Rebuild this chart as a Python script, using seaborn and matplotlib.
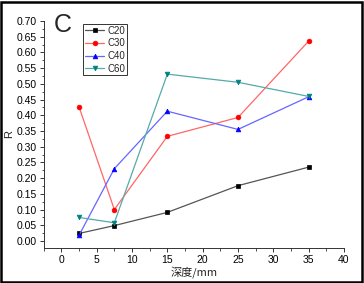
import matplotlib
matplotlib.use("Agg")
import matplotlib.pyplot as plt
import seaborn as sns
import pandas as pd
from matplotlib.patches import Rectangle

depth = [2.5, 7.5, 15, 25, 35]
c20 = [0.024, 0.049, 0.091, 0.176, 0.235]
c30 = [0.427, 0.100, 0.333, 0.393, 0.636]
c40 = [0.018, 0.230, 0.413, 0.355, 0.459]
c60 = [0.075, 0.058, 0.531, 0.505, 0.460]
series = ["C20", "C30", "C40", "C60"]
colors = {"C20": "#000000", "C30": "#FF0000", "C40": "#0000FF", "C60": "#008080"}
line_colors = {"C20": "#555555", "C30": "#FF6666", "C40": "#6666FF", "C60": "#55AAAA"}
markers = {"C20": "s", "C30": "o", "C40": "^", "C60": "v"}

df = pd.DataFrame({
    "depth": depth * 4,
    "R": c20 + c30 + c40 + c60,
    "grade": sum([[s] * len(depth) for s in series], []),
})

sns.set_style("ticks")
plt.rcParams["font.family"] = ["Liberation Sans", "Noto Sans CJK SC", "DejaVu Sans"]

fig = plt.figure(figsize=(3.64, 2.83), dpi=100)
ax = fig.add_axes([0.12, 1 - 248 / 283, 0.945 - 0.12, (248 - 21) / 283])

sns.lineplot(data=df, x="depth", y="R", hue="grade", style="grade",
             palette=colors, markers=markers, dashes=False, ax=ax,
             linewidth=0.9, markersize=3.4, legend=False)

for line, s in zip(ax.lines, series):
    line.set_color(line_colors[s])
    line.set_markerfacecolor(colors[s])
    line.set_markeredgecolor(colors[s])
    line.set_markeredgewidth(0.5)

ax.set_xlim(-2.5, 40)
ax.set_ylim(-0.0223, 0.70)
ax.set_xticks([0, 5, 10, 15, 20, 25, 30, 35, 40])
ax.set_xticks([-2.5, 2.5, 7.5, 12.5, 17.5, 22.5, 27.5, 32.5, 37.5], minor=True)
yt = [round(i * 0.05, 2) for i in range(15)]
ax.set_yticks(yt)
ax.set_yticklabels([f"{v:.2f}" for v in yt])
ax.set_yticks([round(0.025 + i * 0.05, 3) for i in range(14)], minor=True)
ax.tick_params(axis="both", which="major", direction="out", length=3, width=0.7,
               labelsize=7.5, pad=2, colors="#333333", labelcolor="black")
ax.tick_params(axis="both", which="minor", direction="out", length=1.8, width=0.6,
               colors="#333333")
sns.despine(ax=ax)
for sp in ["left", "bottom"]:
    ax.spines[sp].set_linewidth(0.7)
    ax.spines[sp].set_color("#333333")

ax.set_xlabel("深度/mm", fontsize=8, labelpad=1,
              fontfamily=["Noto Sans CJK SC", "DejaVu Sans"])
ax.set_ylabel("R", fontsize=8, labelpad=2)

ax.legend(handles=ax.lines[:4], labels=series, loc="upper left",
          bbox_to_anchor=(0.131, 0.988), fontsize=7, frameon=True, fancybox=False,
          edgecolor="#333333", framealpha=1, handlelength=2.0, handletextpad=0.3,
          borderpad=0.2, labelspacing=0.27, borderaxespad=0)
ax.get_legend().get_frame().set_linewidth(0.7)

fig.text(54 / 364, 1 - 32 / 283, "C", fontsize=18, ha="left", va="baseline")

fig.patches.append(Rectangle((0.004, 0.004), 0.99, 0.99, transform=fig.transFigure,
                             fill=False, edgecolor="black", linewidth=1.8))

fig.savefig("out.png", dpi=100)
